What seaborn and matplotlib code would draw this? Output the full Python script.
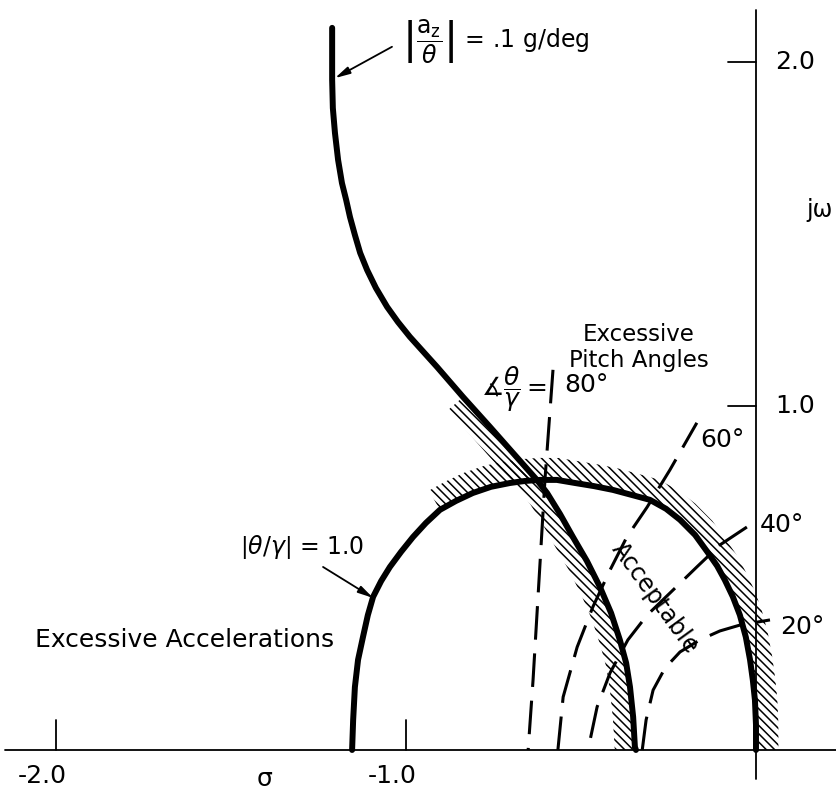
import numpy as np
import pandas as pd
import matplotlib
matplotlib.use("Agg")
import matplotlib.pyplot as plt
import seaborn as sns

sns.set_style("white")
plt.rcParams["font.family"] = ["DejaVu Sans"]
plt.rcParams["mathtext.fontset"] = "dejavusans"
plt.rcParams["text.color"] = "black"
plt.rcParams["hatch.linewidth"] = 1.1

# |theta/gamma| = 1.0 boundary (sigma, j-omega)
ratio_sigma = [-1.154, -1.151, -1.146, -1.137, -1.123, -1.109, -1.094, -1.071, -1.046,
               -1.014, -0.980, -0.943, -0.903, -0.857, -0.809, -0.757, -0.703, -0.660,
               -0.617, -0.569, -0.517, -0.463, -0.409, -0.354, -0.303, -0.257, -0.217,
               -0.174, -0.137, -0.111, -0.089, -0.066, -0.046, -0.029, -0.017, -0.009,
               -0.003, 0.0, 0.0]
ratio_omega = [0.000, 0.087, 0.183, 0.262, 0.328, 0.392, 0.445, 0.491, 0.532,
               0.576, 0.619, 0.660, 0.698, 0.724, 0.747, 0.765, 0.776, 0.782,
               0.785, 0.785, 0.776, 0.767, 0.756, 0.741, 0.727, 0.701, 0.669,
               0.625, 0.573, 0.535, 0.494, 0.445, 0.392, 0.328, 0.262, 0.203,
               0.145, 0.073, 0.000]

# |a_z/theta| = .1 g/deg boundary
accel_sigma = [-1.211, -1.211, -1.209, -1.203, -1.194, -1.183, -1.171, -1.160, -1.146,
               -1.131, -1.111, -1.086, -1.054, -1.023, -0.989, -0.911, -0.837, -0.760,
               -0.694, -0.626, -0.597, -0.560, -0.523, -0.483, -0.446, -0.414, -0.389,
               -0.371, -0.360, -0.351, -0.346, -0.343]
accel_omega = [2.099, 1.948, 1.866, 1.794, 1.715, 1.648, 1.599, 1.549, 1.497,
               1.445, 1.395, 1.343, 1.288, 1.244, 1.201, 1.113, 1.026, 0.939,
               0.863, 0.785, 0.747, 0.686, 0.619, 0.549, 0.474, 0.398, 0.320,
               0.253, 0.183, 0.096, 0.009, 0.000]

# constant phase-angle loci of theta/gamma (listed from the label end)
phase_labels = ["80°", "60°", "40°", "20°"]
phase_sigma = [
    [-0.580, -0.603, -0.617, -0.637, -0.651],
    [-0.566, -0.551, -0.511, -0.466, -0.417, -0.369, -0.311, -0.246, -0.169],
    [-0.026, -0.103, -0.169, -0.246, -0.311, -0.366, -0.417, -0.454, -0.480],
    [-0.325, -0.314, -0.294, -0.260, -0.217, -0.160, -0.103, -0.046, 0.040],
]
phase_omega = [
    [1.105, 0.785, 0.544, 0.203, 0.000],
    [0.000, 0.154, 0.299, 0.416, 0.523, 0.619, 0.706, 0.814, 0.951],
    [0.648, 0.596, 0.532, 0.456, 0.392, 0.320, 0.224, 0.125, 0.000],
    [0.000, 0.087, 0.174, 0.238, 0.285, 0.320, 0.346, 0.363, 0.378],
]

x_ticks = [-2.0, -1.0]
x_tick_labels = ["-2.0", "-1.0"]
y_ticks = [1.0, 2.0]
y_tick_labels = ["1.0", "2.0"]

fig = plt.figure(figsize=(8.36, 7.94), dpi=100)
ax = fig.add_axes([0, 0, 1, 1])


def band(xs, ys, width, side):
    """Polygon of a strip of given width lying beside a curve."""
    xs = np.asarray(xs, float)
    ys = np.asarray(ys, float)
    dx = np.gradient(xs)
    dy = np.gradient(ys)
    n = np.hypot(dx, dy)
    nx, ny = -dy / n * side, dx / n * side
    ox, oy = xs + width * nx, ys + width * ny
    return np.concatenate([xs, ox[::-1]]), np.concatenate([ys, oy[::-1]])


# hatched strips on the forbidden side of each boundary
acc_start = 16
bx, by = band(accel_sigma[acc_start:], accel_omega[acc_start:], 0.058, -1)
ax.fill(bx, np.clip(by, 0, None), facecolor="none", edgecolor="black",
        linewidth=0, hatch="\\" * 4, zorder=1)
rat_start = 12
bx, by = band(ratio_sigma[rat_start:], ratio_omega[rat_start:], 0.064, 1)
ax.fill(bx, np.clip(by, 0, None), facecolor="none", edgecolor="black",
        linewidth=0, hatch="\\" * 4, zorder=1)

# axes of the s-plane
ax.plot([-2.145, 0.2286], [0, 0], color="black", lw=1.3, zorder=2)
ax.plot([0, 0], [-0.085, 2.15], color="black", lw=1.3, zorder=2)
for xt, lab in zip(x_ticks, x_tick_labels):
    ax.plot([xt, xt], [0, 0.087], color="black", lw=1.3)
    ax.text(xt - 0.04, -0.075, lab, ha="center", va="center", fontsize=18)
for yt, lab in zip(y_ticks, y_tick_labels):
    ax.plot([-0.08, 0], [yt, yt], color="black", lw=1.3)
    ax.text(0.055, yt, lab, ha="left", va="center", fontsize=18)
ax.text(0.145, 1.57, "jω", ha="left", va="center", fontsize=17)
ax.text(-1.403, -0.085, "σ", ha="center", va="center", fontsize=18)

# boundaries
df_ratio = pd.DataFrame({"sigma": ratio_sigma, "omega": ratio_omega})
df_accel = pd.DataFrame({"sigma": accel_sigma, "omega": accel_omega})
sns.lineplot(data=df_ratio, x="sigma", y="omega", sort=False, estimator=None,
             color="black", lw=4.3, ax=ax, zorder=3)
sns.lineplot(data=df_accel, x="sigma", y="omega", sort=False, estimator=None,
             color="black", lw=4.3, ax=ax, zorder=3)

for xs, ys in zip(phase_sigma, phase_omega):
    sns.lineplot(x=xs, y=ys, sort=False, estimator=None, color="black",
                 lw=2.2, ax=ax, zorder=4, linestyle=(0, (11, 4.5)))
ax.set_xlim(-2.16, 0.2286)
ax.set_ylim(-0.128, 2.180)
ax.axis("off")

# phase labels
ax.text(-0.598, 1.05, r"$\measuredangle\dfrac{\theta}{\gamma}=$", ha="right",
        va="center", fontsize=18)
ax.text(-0.548, 1.061, phase_labels[0], ha="left", va="center", fontsize=18)
ax.text(-0.16, 0.901, phase_labels[1], ha="left", va="center", fontsize=18)
ax.text(0.011, 0.654, phase_labels[2], ha="left", va="center", fontsize=18)
ax.text(0.069, 0.358, phase_labels[3], ha="left", va="center", fontsize=18)

# region labels
ax.text(-2.06, 0.32, "Excessive Accelerations", ha="left", va="center", fontsize=18)
ax.text(-0.335, 1.17, "Excessive\nPitch Angles", ha="center", va="center",
        fontsize=16.5, linespacing=1.15)
ax.text(-0.289, 0.442, "Acceptable", ha="center", va="center", fontsize=17,
        rotation=-54, rotation_mode="anchor")

# boundary callouts
arrow = dict(arrowstyle="-|>,head_length=0.9,head_width=0.22", color="black", lw=1.3,
             shrinkA=0, shrinkB=0)
ax.text(-1.474, 0.590, r"$\left|\theta/\gamma\right|$ = 1.0", ha="left",
        va="center", fontsize=17)
ax.annotate("", xy=(-1.094, 0.442), xytext=(-1.237, 0.532), arrowprops=arrow)
ax.text(-1.011, 2.058, r"$\left|\dfrac{\mathrm{a_z}}{\theta}\right|$ = .1 g/deg",
        ha="left", va="center", fontsize=17)
ax.annotate("", xy=(-1.203, 1.953), xytext=(-1.04, 2.044), arrowprops=arrow)

fig.savefig("out.png", dpi=100)
